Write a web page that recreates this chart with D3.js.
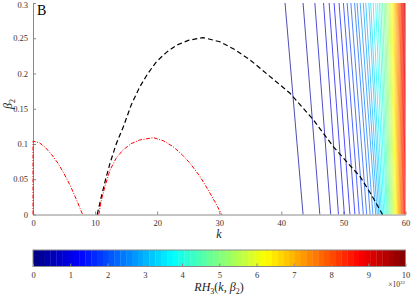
<!DOCTYPE html>
<html lang="en">
<head>
    <meta charset="UTF-8">
    <script src="https://d3js.org/d3.v7.min.js"></script>
    <title>RH3 contours</title>
    <style>
        body { margin: 0; background: #fff; }
        svg { display: block; font-family: "Liberation Serif", "DejaVu Serif", serif; }
        .axis .domain, .axis line { stroke: #8a8a8a; }
        .axis text { fill: #333; font-size: 8.5px; font-family: "Liberation Serif", serif; }
    </style>
</head>
<body>
    <figure style="margin:0"></figure>
    <script>
        // tick labels
        const kTicks = [0, 10, 20, 30, 40, 50, 60];
        const betaTicks = [0, 0.05, 0.1, 0.15, 0.2, 0.25, 0.3];
        const cbTicks = [0, 1, 2, 3, 4, 5, 6, 7, 8, 9, 10];

        // contour levels of RH3 (x 10^22) and where each line crosses beta2 = 0.3 and beta2 = 0
        const levels = [0.2, 0.4, 0.6, 0.8, 1.0, 1.2, 1.4, 1.6, 1.8, 2.0,
                        2.2, 2.4, 2.6, 2.8, 3.0, 3.2, 3.4, 3.6, 3.8, 4.0,
                        4.2, 4.4, 4.6, 4.8, 5.0, 5.2, 5.4, 5.6, 5.8, 6.0,
                        6.2, 6.4, 6.6, 6.8, 7.0, 7.2, 7.4, 7.6, 7.8, 8.0,
                        8.2, 8.4, 8.6, 8.8, 9.0, 9.2, 9.4, 9.6, 9.8, 10.0];
        const kAtTop = [40.6, 43.5, 45.4, 46.8, 47.7, 48.5, 49.3, 50.0, 50.6, 51.2,
                        51.8, 52.2, 52.7, 53.2, 53.6, 54.1, 54.4, 54.8, 55.2, 55.5,
                        55.8, 56.05, 56.3, 56.55, 56.75, 56.95, 57.15, 57.35, 57.5, 57.65,
                        57.8, 57.95, 58.1, 58.25, 58.4, 58.55, 58.7, 58.85, 59.0, 59.12,
                        59.24, 59.36, 59.48, 59.6, 59.72, 59.84, 59.96, 60.08, 60.2, 60.3];
        const kAtBottom = [43.5, 46.2, 47.95, 49.2, 50.15, 51.05, 51.85, 52.55, 53.2, 53.75,
                           54.3, 54.75, 55.2, 55.45, 55.7, 55.9, 56.1, 56.3, 56.5, 56.7,
                           56.9, 57.05, 57.2, 57.35, 57.5, 57.65, 57.8, 57.95, 58.1, 58.25,
                           58.4, 58.52, 58.64, 58.76, 58.88, 59.0, 59.12, 59.24, 59.36, 59.48,
                           59.6, 59.72, 59.84, 59.96, 60.08, 60.2, 60.3, 60.4, 60.5, 60.6];

        // red dash-dot curves
        const red1K = [0, 0, 1, 2, 3, 4, 5, 6, 7, 8];
        const red1B = [0, 0.104, 0.102, 0.095, 0.085, 0.073, 0.058, 0.041, 0.021, 0];
        const red2K = [10.6, 11, 11.6, 12.4, 13.4, 14.5, 15.8, 17.2, 19.4, 21, 22.6, 24, 25.3, 26.9, 28.2, 29.3, 30.4];
        const red2B = [0, 0.02, 0.04, 0.063, 0.08, 0.0915, 0.1005, 0.1057, 0.109, 0.1045, 0.096, 0.085, 0.0726, 0.054, 0.035, 0.018, 0];

        // black dashed curve
        const blackK = [10.35, 11, 11.7, 12.4, 13.4, 14.55, 15.8, 17.2, 18.5, 19.9, 21.5, 23.1, 25, 27.4,
                        30.1, 32.5, 35, 38, 41.4, 45, 48.4, 50.5, 52.7, 54.5, 56.3];
        const blackB = [0, 0.025, 0.05, 0.0726, 0.1, 0.1245, 0.155, 0.181, 0.2, 0.217, 0.23, 0.24, 0.247, 0.251,
                        0.245, 0.234, 0.219, 0.197, 0.172, 0.136, 0.096, 0.075, 0.0536, 0.028, 0];

        const w = 411;
        const h = 296;
        const padL = 33, padR = 405.5, padT = 3, padB = 214.5;

        const svg = d3.select("figure").append("svg")
            .attr("width", w)
            .attr("height", h);

        //scales
        const xScale = d3.scaleLinear().domain([0, 60]).range([padL, padR]);
        const yScale = d3.scaleLinear().domain([0, 0.3]).range([padB, padT]);

        // matlab jet
        const jet = d3.scaleLinear()
            .domain([0, 1.25, 3.75, 6.25, 8.75, 10])
            .range(["#000080", "#0000ff", "#00ffff", "#ffff00", "#ff0000", "#800000"])
            .clamp(true);

        //axes
        svg.append("g")
            .attr("class", "axis")
            .attr("transform", "translate(0," + padB + ")")
            .call(d3.axisBottom(xScale).tickValues(kTicks).tickSize(-3).tickSizeOuter(0).tickPadding(5));

        const yAxisG = svg.append("g")
            .attr("class", "axis")
            .attr("transform", "translate(" + padL + ",0)")
            .call(d3.axisLeft(yScale).tickValues(betaTicks).tickSize(-3).tickSizeOuter(0).tickPadding(5)
                .tickFormat(d => String(+d.toFixed(2))));
        // keep the top label inside the page
        yAxisG.selectAll(".tick text").filter(d => d === 0.3).attr("dy", "0.5em");

        svg.append("clipPath").attr("id", "plot")
            .append("rect")
            .attr("x", padL).attr("y", padT)
            .attr("width", padR - padL).attr("height", padB - padT);

        const line = d3.line().x(d => xScale(d[0])).y(d => yScale(d[1]));

        //contour lines
        svg.append("g")
            .attr("clip-path", "url(#plot)")
            .selectAll("path")
            .data(levels)
            .enter()
            .append("path")
            .attr("d", (d, i) => line([[kAtBottom[i], 0], [kAtTop[i], 0.3]]))
            .attr("fill", "none")
            .attr("stroke", d => jet(d))
            .attr("stroke-width", 0.7);

        svg.append("path")
            .attr("d", line(blackK.map((k, i) => [k, blackB[i]])))
            .attr("fill", "none")
            .attr("stroke", "#000")
            .attr("stroke-width", 1.2)
            .attr("stroke-dasharray", "5,3");

        [[red1K, red1B], [red2K, red2B]].forEach(c => {
            svg.append("path")
                .attr("d", line(c[0].map((k, i) => [k, c[1][i]])))
                .attr("fill", "none")
                .attr("stroke", "#ff0000")
                .attr("stroke-width", 1)
                .attr("stroke-dasharray", "4,1.5,1,1.5");
        });

        //labels
        svg.append("text").attr("x", 37).attr("y", 15)
            .attr("font-size", 14).attr("fill", "#000").text("B");

        svg.append("text")
            .attr("x", 219).attr("y", 238)
            .attr("text-anchor", "middle")
            .attr("font-size", 12).attr("font-style", "italic").attr("fill", "#222")
            .text("k");

        const ylab = svg.append("text")
            .attr("transform", "translate(12,104) rotate(-90)")
            .attr("text-anchor", "middle")
            .attr("font-size", 12).attr("fill", "#222");
        ylab.append("tspan").attr("font-style", "italic").text("β");
        ylab.append("tspan").attr("font-size", 8).attr("dy", 3).text("2");

        //colorbar
        const cbTop = 250, cbBottom = 266.5;
        const bands = d3.range(64);
        const bandScale = d3.scaleBand().domain(bands).range([padL, padR]);
        const cbScale = d3.scaleLinear().domain([0, 10]).range([padL, padR]);

        svg.append("g").selectAll("rect")
            .data(bands)
            .enter()
            .append("rect")
            .attr("x", d => bandScale(d))
            .attr("y", cbTop)
            .attr("width", bandScale.bandwidth() + 0.3)
            .attr("height", cbBottom - cbTop)
            .attr("fill", d => jet((d + 0.5) / 64 * 10));

        svg.append("rect")
            .attr("x", padL).attr("y", cbTop)
            .attr("width", padR - padL).attr("height", cbBottom - cbTop)
            .attr("fill", "none").attr("stroke", "#8a8a8a").attr("stroke-width", 1);

        svg.append("g")
            .attr("class", "axis")
            .attr("transform", "translate(0," + cbBottom + ")")
            .call(d3.axisBottom(cbScale).tickValues(cbTicks).tickSize(-3).tickSizeOuter(0).tickPadding(5))
            .select(".domain").remove();

        const cbl = svg.append("text")
            .attr("x", 219).attr("y", 291)
            .attr("text-anchor", "middle")
            .attr("font-size", 12).attr("fill", "#222");
        cbl.append("tspan").attr("font-style", "italic").text("RH");
        cbl.append("tspan").attr("font-size", 8).attr("dy", 3).text("3");
        cbl.append("tspan").attr("dy", -3).text("(");
        cbl.append("tspan").attr("font-style", "italic").text("k");
        cbl.append("tspan").text(", ");
        cbl.append("tspan").attr("font-style", "italic").text("β");
        cbl.append("tspan").attr("font-size", 8).attr("dy", 3).text("2");
        cbl.append("tspan").attr("dy", -3).text(")");

        const mult = svg.append("text")
            .attr("x", 405).attr("y", 287)
            .attr("text-anchor", "end")
            .attr("font-size", 7.5).attr("fill", "#333");
        mult.append("tspan").text("×10");
        mult.append("tspan").attr("font-size", 5).attr("dy", -3.5).text("22");
    </script>
</body>
</html>
